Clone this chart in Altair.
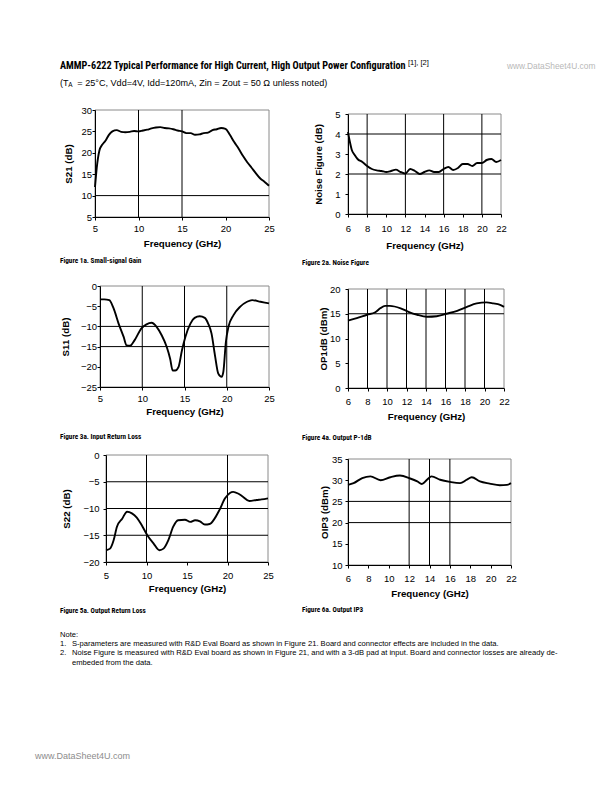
import altair as alt
import pandas as pd

# ---------------- data ----------------
s21_freq = [5.0, 5.2, 5.5, 5.8, 6.2, 6.6, 7.0, 7.5, 8.0, 8.5, 9.0, 9.5, 10.0, 10.5, 11.0, 11.5,
            12.0, 12.5, 13.0, 13.5, 14.0, 14.5, 15.0, 15.5, 16.0, 16.5, 17.0, 17.5, 18.0, 18.5,
            19.0, 19.5, 20.0, 20.5, 21.0, 21.5, 22.0, 22.5, 23.0, 23.5, 24.0, 24.5, 25.0]
s21_db = [12.0, 16.5, 20.5, 21.8, 22.8, 24.2, 25.0, 25.3, 24.9, 24.8, 24.9, 25.1, 25.0, 25.2, 25.4, 25.7,
          25.9, 26.0, 25.8, 25.7, 25.5, 25.2, 25.0, 24.6, 24.6, 24.2, 24.3, 24.6, 24.7, 25.3,
          25.5, 25.8, 25.6, 24.2, 22.5, 21.0, 19.3, 17.8, 16.5, 15.2, 14.0, 13.2, 12.3]

nf_freq = [6.0, 6.2, 6.4, 6.7, 7.0, 7.5, 8.0, 8.5, 9.0, 9.5, 10.0, 10.5, 11.0, 11.5, 12.0, 12.5,
           13.0, 13.5, 14.0, 14.5, 15.0, 15.5, 16.0, 16.5, 17.0, 17.5, 18.0, 18.5, 19.0, 19.5,
           20.0, 20.5, 21.0, 21.5, 22.0]
nf_db = [4.1, 3.6, 3.2, 2.95, 2.75, 2.6, 2.4, 2.25, 2.18, 2.15, 2.1, 2.15, 2.22, 2.1, 2.02, 2.25,
         2.15, 2.0, 2.1, 2.18, 2.1, 2.1, 2.25, 2.35, 2.2, 2.3, 2.5, 2.5, 2.4, 2.55,
         2.55, 2.7, 2.75, 2.6, 2.7]

s11_freq = [5.0, 5.5, 6.1, 6.6, 7.2, 7.8, 8.15, 8.55, 9.1, 9.9, 10.5, 11.1, 11.7, 12.3, 12.9, 13.3,
            13.6, 13.9, 14.3, 14.7, 15.1, 15.7, 16.2, 16.8, 17.4, 17.8, 18.2, 18.6, 19.0, 19.4,
            19.6, 19.9, 20.2, 20.8, 21.6, 22.4, 23.0, 24.0, 25.0]
s11_db = [-3.3, -3.3, -3.5, -5.5, -9.3, -12.6, -14.7, -14.8, -13.4, -10.5, -9.5, -9.1, -10.1, -12.2, -15.1, -18.0,
          -20.9, -20.9, -20.0, -15.9, -12.6, -9.3, -7.9, -7.5, -7.9, -9.3, -11.8, -17.1, -21.7, -22.5,
          -21.2, -13.8, -10.1, -7.2, -5.1, -3.9, -3.5, -3.9, -4.3]

p1db_freq = [6.0, 6.9, 7.95, 8.8, 9.3, 9.8, 10.3, 11.4, 12.2, 13.1, 14.1, 15.1, 16.1, 17.2, 18.2,
             19.2, 20.2, 20.9, 21.6, 22.0]
p1db_dbm = [13.6, 14.1, 14.8, 15.3, 16.1, 16.6, 16.6, 16.1, 15.4, 14.8, 14.4, 14.5, 15.0, 15.6, 16.4,
            17.1, 17.3, 17.1, 16.8, 16.4]

s22_freq = [5.0, 5.5, 5.95, 6.35, 7.0, 7.6, 8.2, 8.8, 9.4, 10.1, 10.9, 11.6, 12.1, 12.7, 13.3, 13.9,
            14.75, 15.4, 16.0, 16.6, 17.2, 17.8, 18.4, 19.0, 19.7, 20.3, 20.7, 21.3, 21.9, 22.7,
            23.6, 24.2, 25.0]
s22_db = [-17.8, -17.5, -15.9, -13.4, -11.9, -10.6, -10.9, -11.7, -13.1, -15.0, -16.6, -17.8, -17.5, -15.9, -13.4, -12.2,
          -12.1, -12.5, -12.2, -12.4, -13.0, -12.9, -11.9, -10.3, -8.1, -7.1, -6.9, -7.2, -7.8, -8.6,
          -8.4, -8.3, -8.1]

oip3_freq = [6.0, 6.55, 7.4, 8.2, 9.2, 10.15, 11.1, 12.1, 12.8, 13.25, 13.75, 14.2, 15.05, 16.0, 17.0,
             17.65, 18.15, 18.95, 19.9, 20.9, 21.6, 22.0]
oip3_dbm = [28.9, 29.3, 30.5, 30.9, 30.0, 30.7, 31.1, 30.4, 29.7, 29.1, 30.1, 30.9, 30.1, 29.6, 29.3,
            30.1, 30.7, 29.7, 29.2, 28.8, 28.9, 29.3]

# axis ticks / gridlines
ticks_5_25 = [5, 10, 15, 20, 25]
ticks_6_22 = [6, 8, 10, 12, 14, 16, 18, 20, 22]
s21_yticks = [5, 10, 15, 20, 25, 30]
nf_yticks = [0, 1, 2, 3, 4, 5]
s11_yticks = [-25, -20, -15, -10, -5, 0]
p1db_yticks = [0, 5, 10, 15, 20]
s22_yticks = [-20, -15, -10, -5, 0]
oip3_yticks = [10, 15, 20, 25, 30, 35]

s21_xgrid, s21_ygrid = [10, 15], [10]
nf_xgrid, nf_ygrid = [8, 12, 16, 20], [2, 4]
s11_xgrid, s11_ygrid = [10, 15, 20], [-10, -15]
p1db_xgrid, p1db_ygrid = [8, 10, 12, 14, 16, 18, 20], [15]
s22_xgrid, s22_ygrid = [10, 20], [-5, -10, -15]
oip3_xgrid, oip3_ygrid = [12, 14, 16], [25, 20]

# ---------------- layout ----------------
W, H = 596, 770
OX, OY = 8, 8
FONT = "Liberation Sans"
NARROW = ("Roboto Condensed, Noto Sans Condensed, Liberation Sans Narrow, Arial Narrow, "
          "DejaVu Sans Condensed, Liberation Sans")


def panel(freq, vals, xdom, ydom, xticks, yticks, xgrid, ygrid, box, ytitle,
          ylp, ytp, xlp, xtp):
    left, right, top, bottom = box
    xr = [left - OX, right - OX]
    yr = [bottom - OY, top - OY]
    xs = alt.Scale(domain=xdom, range=xr, nice=False, zero=False)
    ys = alt.Scale(domain=ydom, range=yr, nice=False, zero=False)
    common = dict(grid=False, labelFlush=False, labelOverlap=False, domainColor="black",
                  domainWidth=1, tickColor="black", tickSize=3, labelFont=FONT, labelFontSize=9.5,
                  labelColor="black", titleFont=FONT, titleFontSize=9.7, titleFontWeight="bold",
                  titleColor="black", zindex=2)
    xa = alt.Axis(orient="bottom", offset=-(H - (bottom - OY)), values=xticks,
                  title="Frequency (GHz)", labelPadding=xlp, titlePadding=xtp, **common)
    ya = alt.Axis(orient="left", offset=-(left - OX), values=yticks, title=ytitle,
                  labelPadding=ylp, titlePadding=ytp, **common)

    frame_df = pd.DataFrame({"x0": [xdom[0]], "x1": [xdom[1]], "y0": [ydom[0]], "y1": [ydom[1]]})
    frame = alt.Chart(frame_df).mark_rect(filled=False, stroke="#8a8a8a", strokeWidth=1).encode(
        x=alt.X("x0:Q", scale=xs, axis=xa), x2="x1:Q",
        y=alt.Y("y0:Q", scale=ys, axis=ya), y2="y1:Q")

    vg_df = pd.DataFrame({"g": xgrid, "y0": [ydom[0]] * len(xgrid), "y1": [ydom[1]] * len(xgrid)})
    vgrid = alt.Chart(vg_df).mark_rule(color="black", strokeWidth=1).encode(
        x=alt.X("g:Q", scale=xs, axis=xa),
        y=alt.Y("y0:Q", scale=ys, axis=ya), y2="y1:Q")

    hg_df = pd.DataFrame({"g": ygrid, "x0": [xdom[0]] * len(ygrid), "x1": [xdom[1]] * len(ygrid)})
    hgrid = alt.Chart(hg_df).mark_rule(color="black", strokeWidth=1).encode(
        y=alt.Y("g:Q", scale=ys, axis=ya),
        x=alt.X("x0:Q", scale=xs, axis=xa), x2="x1:Q")

    line_df = pd.DataFrame({"f": freq, "v": vals})
    line = alt.Chart(line_df).mark_line(color="black", strokeWidth=1.9, interpolate="monotone").encode(
        x=alt.X("f:Q", scale=xs, axis=xa),
        y=alt.Y("v:Q", scale=ys, axis=ya))
    return alt.layer(frame, vgrid, hgrid, line)


panels = [
    panel(s21_freq, s21_db, [5, 25], [5, 30], ticks_5_25, s21_yticks, s21_xgrid, s21_ygrid,
          (95, 269, 110, 217), "S21 (dB)", 0.5, 7, 3, 6),
    panel(nf_freq, nf_db, [6, 22], [0, 5], ticks_6_22, nf_yticks, nf_xgrid, nf_ygrid,
          (348, 501, 114, 214), "Noise Figure (dB)", 5, 11, 6, 8),
    panel(s11_freq, s11_db, [5, 25], [-25, 0], ticks_5_25, s11_yticks, s11_xgrid, s11_ygrid,
          (100, 269, 286, 387), "S11 (dB)", 0.5, 10, 3, 4),
    panel(p1db_freq, p1db_dbm, [6, 22], [0, 20], ticks_6_22, p1db_yticks, p1db_xgrid, p1db_ygrid,
          (348, 504, 289, 388), "OP1dB (dBm)", 5, 1, 5, 6),
    panel(s22_freq, s22_db, [5, 25], [-20, 0], ticks_5_25, s22_yticks, s22_xgrid, s22_ygrid,
          (106, 268, 455, 562), "S22 (dB)", 4, 11, 5, 4),
    panel(oip3_freq, oip3_dbm, [6, 22], [10, 35], ticks_6_22, oip3_yticks, oip3_xgrid, oip3_ygrid,
          (348, 511, 459, 565), "OIP3 (dBm)", 3, 2, 5, 6),
]


def txt(s, x, y, size, weight="normal", font=FONT, color="black"):
    return alt.Chart(pd.DataFrame({"t": [s]})).mark_text(
        align="left", baseline="middle", font=font, fontSize=size, fontWeight=weight, color=color
    ).encode(text="t:N", x=alt.value(x - OX), y=alt.value(y - OY))


texts = [
    txt("AMMP-6222 Typical Performance for High Current, High Output Power Configuration",
        60, 66, 10.2, "bold", NARROW),
    txt("[1], [2]", 408, 63, 7.5),
    txt("www.DataSheet4U.com", 507, 66, 8.4, color="#b8b8b8"),
    txt("(T", 60, 83, 9),
    txt("A", 68.3, 84.5, 6.4),
    txt("= 25°C, Vdd=4V, Idd=120mA, Zin = Zout = 50 Ω unless noted)", 77.3, 83, 9.1),
    txt("Figure 1a. Small-signal Gain", 60, 261, 7.2, "bold", NARROW),
    txt("Figure 2a. Noise Figure", 302, 262.5, 7.2, "bold", NARROW),
    txt("Figure 3a. Input Return Loss", 60, 437, 7.2, "bold", NARROW),
    txt("Figure 4a. Output P-1dB", 302, 438, 7.2, "bold", NARROW),
    txt("Figure 5a. Output Return Loss", 60, 611, 7.2, "bold", NARROW),
    txt("Figure 6a. Output IP3", 302, 610, 7.2, "bold", NARROW),
    txt("Note:", 60, 635, 7.6),
    txt("1.", 60, 644, 7.6),
    txt("S-parameters are measured with R&D Eval Board as shown in Figure 21. Board and connector "
        "effects are included in the data.", 72, 644, 7.6),
    txt("2.", 60, 653, 7.6),
    txt("Noise Figure is measured with R&D Eval board as shown in Figure 21, and with a 3-dB pad at "
        "input. Board and connector losses are already de-", 72, 653, 7.6),
    txt("embeded from the data.", 72, 663, 7.6),
    txt("www.DataSheet4U.com", 35, 756, 9, color="#8c8c8c"),
]

chart = alt.layer(*panels, *texts).resolve_scale(
    x="independent", y="independent"
).resolve_axis(
    x="independent", y="independent"
).properties(
    width=W, height=H, padding=0, autosize=alt.AutoSizeParams(type="none")
).configure_view(stroke=None)

chart.save("out.html", embed_options={"renderer": "svg", "actions": False})
